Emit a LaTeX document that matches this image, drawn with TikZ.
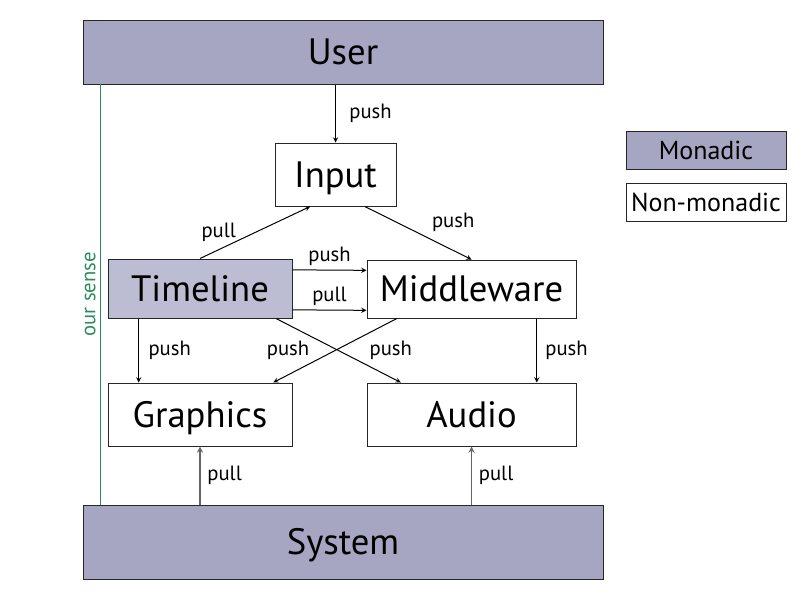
\documentclass[tikz,border=0pt]{standalone}
\usepackage{fontspec}
\setmainfont{PT Sans}
\usetikzlibrary{positioning}
\definecolor{monad}{HTML}{A6A6C3}
\definecolor{monadlight}{HTML}{BCBCD3}
\definecolor{sensegreen}{HTML}{2E8B61}
\tikzset{
box/.style={rectangle,draw=black!85,line width=0.75pt,inner sep=0pt,text height=19pt,text depth=0pt,font=\fontsize{27.5}{30}\selectfont},
legend/.style={rectangle,draw=black!85,line width=0.75pt,inner sep=0pt,minimum width=120pt,minimum height=28.5pt,text height=14pt,text depth=0pt,font=\fontsize{19.5}{22}\selectfont},
lbl/.style={inner sep=2pt,font=\fontsize{15.5}{17}\selectfont}
}

\begin{document}
\begin{tikzpicture}[x=0.75pt,y=-0.75pt,>=stealth,line width=0.75pt]
\useasboundingbox (0,0) rectangle (800,600);
\node[box,fill=monad,minimum width=390pt,minimum height=48pt] (User) at(343,52) {User};
\node[box,minimum width=90.75pt,minimum height=47.25pt] (Input) at(335.5,174.5) {Input};
\node[box,fill=monadlight,minimum width=138pt,minimum height=44.25pt] (Timeline) at(200,288.5) {Timeline};
\node[box,minimum width=156.75pt,minimum height=43.5pt] (MW) at(471.5,289) {Middleware};
\node[box,minimum width=138pt,minimum height=47.25pt] (Gfx) at(200,414.5) {Graphics};
\node[box,minimum width=156.75pt,minimum height=47.25pt] (Audio) at(471.5,414.5) {Audio};
\node[box,fill=monad,minimum width=390pt,minimum height=55.5pt] (System) at(343,542) {System};
\node[legend,fill=monad] (Mon) at(706,150) {Monadic};
\node[legend] (NonMon) at(706,202) {Non-monadic};
% our sense
\coordinate (senseTop) at(100,84);
\coordinate (senseBot) at(100,505);
\draw[sensegreen] (senseBot) -- node[lbl,midway,sloped,above=1pt,text=sensegreen]{our sense}(senseTop);
\draw[->] (User.south -| Input.north) -- node[lbl,midway,right=8pt]{push}(Input.north);
\draw[->] (Timeline.north) -- node[lbl,pos=0.5,left=12pt]{pull}([xshift=-19pt]Input.south);
\draw[->] ([xshift=22pt]Input.south) -- node[lbl,pos=0.3,right=24pt]{push}(MW.north);
\draw[->] ([yshift=14pt]Timeline.east) -- node[lbl,midway,above=1pt]{push}([yshift=14pt]MW.west);
\draw[->] ([yshift=-16pt]Timeline.east) -- node[lbl,midway,above=1pt]{pull}([yshift=-16pt]MW.west);
\draw[->] ([xshift=-46pt]Timeline.south) -- node[lbl,midway,right=5pt]{push}([xshift=-46pt]Gfx.north);
\draw[->] ([xshift=-56pt]MW.south) -- node[lbl,midway,left=17pt]{push}([xshift=55pt]Gfx.north);
\draw[->] ([xshift=57pt]Timeline.south) -- node[lbl,midway,right=21pt]{push}([xshift=-53pt]Audio.north);
\draw[->] ([xshift=49pt]MW.south) -- node[lbl,midway,right=4pt]{push}([xshift=49pt]Audio.north);
\draw[->,black!60,line width=1.1pt] (System.north -| Gfx.south) -- node[lbl,midway,right=3pt,text=black]{pull}(Gfx.south);
\draw[->,black!60,line width=1.1pt] (System.north -| Audio.south) -- node[lbl,midway,right=3pt,text=black]{pull}(Audio.south);
\end{tikzpicture}
\end{document}
